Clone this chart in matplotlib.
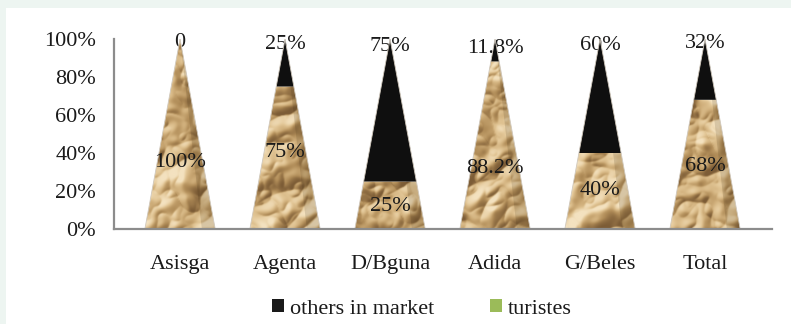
import numpy as np
import matplotlib
matplotlib.use("Agg")
import matplotlib.pyplot as plt
from matplotlib.patches import Polygon, Patch, Rectangle
from matplotlib.colors import LinearSegmentedColormap

plt.rcParams['font.family'] = ['Liberation Serif', 'DejaVu Serif']

categories = ["Asisga", "Agenta", "D/Bguna", "Adida", "G/Beles", "Total"]
turistes = [100, 75, 25, 88.2, 40, 68]
others = [0, 25, 75, 11.8, 60, 32]
turistes_labels = ["100%", "75%", "25%", "88.2%", "40%", "68%"]
others_labels = ["0", "25%", "75%", "11.8%", "60%", "32%"]
# vertical spots for the lower labels (in %)
low_label_y = [35, 40, 12, 32, 20, 33]
# vertical spots for the upper labels (in %)
top_label_y = [98, 97, 96, 95, 96.5, 97.5]

TXT = "#1a1a1a"
FS = 16


def blur(a, sigma):
    ny, nx = a.shape
    fy = np.fft.fftfreq(ny)[:, None]
    fx = np.fft.fftfreq(nx)[None, :]
    k = np.exp(-2 * (np.pi * sigma) ** 2 * (fx ** 2 + fy ** 2))
    return np.real(np.fft.ifft2(np.fft.fft2(a) * k))


# crumpled paper texture: height field of creases, lit from the upper left
rng = np.random.default_rng(5)
shape = (200, 660)
height = np.zeros(shape)
for sigma, amp in [(16, 1.0), (8, 0.6), (4, 0.25)]:
    n = blur(rng.standard_normal(shape), sigma)
    n /= n.std()
    height -= amp * np.abs(n)
gy, gx = np.gradient(height * 10)
shade = (-gx * 0.6 + gy * 0.8) / np.sqrt(1 + gx ** 2 + gy ** 2)
tex = shade - 0.15 * height
tex = (tex - np.percentile(tex, 1)) / (np.percentile(tex, 99) - np.percentile(tex, 1))
tex = np.clip(tex, 0, 1)
paper = LinearSegmentedColormap.from_list(
    "paper", ["#7c5c36", "#b08c58", "#cfae7a", "#e2c696", "#f4e2c0"])

fig = plt.figure(figsize=(7.91, 3.24), dpi=100)
fig.patch.set_facecolor("#edf5f1")
fig.add_artist(Rectangle((6 / 791, 0), 1, 1 - 8 / 324, transform=fig.transFigure,
                         facecolor="white", edgecolor="none", zorder=-10))

ax = fig.add_axes([114 / 791, 95 / 324, 658 / 791, 190 / 324])
ax.set_facecolor("none")
xlim = (-0.629, 5.638)
ax.set_xlim(*xlim)
ax.set_ylim(0, 100)

w = 0.335
for i, (t, o) in enumerate(zip(turistes, others)):
    top = t + o
    r = w * (1 - t / 100)
    low = Polygon([(i - w, 0), (i + w, 0), (i + r, t), (i - r, t)],
                  closed=True, facecolor="none", edgecolor="none")
    ax.add_patch(low)
    im = ax.imshow(tex, cmap=paper, extent=(xlim[0], xlim[1], 0, 100),
                   aspect="auto", origin="lower", zorder=2, interpolation="bicubic")
    im.set_clip_path(low)
    # right facet shading
    ax.add_patch(Polygon([(i + 0.62 * w, 0), (i + w, 0), (i, 100)], closed=True,
                         facecolor="#3a2a10", alpha=0.15, edgecolor="none", zorder=3))
    if o > 0:
        ax.add_patch(Polygon([(i - r, t), (i + r, t), (i, top)], closed=True,
                             facecolor="#0f0f0f", edgecolor="none", zorder=3.5))
    ax.plot([i - w, i], [0, 100], color="#d0c8bc", lw=0.6, zorder=4)
    ax.plot([i + w, i], [0, 100], color="#d0c8bc", lw=0.6, zorder=4)

    ax.text(i, low_label_y[i], turistes_labels[i], ha="center", va="center",
            fontsize=FS, color=TXT, zorder=6)
    ax.text(i, top_label_y[i], others_labels[i], ha="center", va="center",
            fontsize=FS, color=TXT, zorder=1)

for s in ["top", "right"]:
    ax.spines[s].set_visible(False)
for s in ["left", "bottom"]:
    ax.spines[s].set_color("#8c8c8c")
    ax.spines[s].set_linewidth(1.6)
    ax.spines[s].set_zorder(5)

ax.set_xticks(range(len(categories)))
ax.set_xticklabels(categories)
ax.set_yticks(range(0, 101, 20))
ax.set_yticklabels([f"{v}%" for v in range(0, 101, 20)])
ax.tick_params(axis="x", length=0, pad=19, labelsize=FS, labelcolor=TXT)
ax.tick_params(axis="y", length=0, pad=13, labelsize=FS, labelcolor=TXT)

handles = [Patch(facecolor="#1a1a1a", label="others in market"),
           Patch(facecolor="#9bbb59", label="turistes")]
fig.legend(handles=handles, loc="center", bbox_to_anchor=(0.533, 0.047), ncol=2,
           frameon=False, fontsize=FS, handlelength=0.55, handleheight=0.55,
           handletextpad=0.25, columnspacing=2.5, labelcolor=TXT)

fig.savefig("out.png", dpi=100, facecolor=fig.get_facecolor())
